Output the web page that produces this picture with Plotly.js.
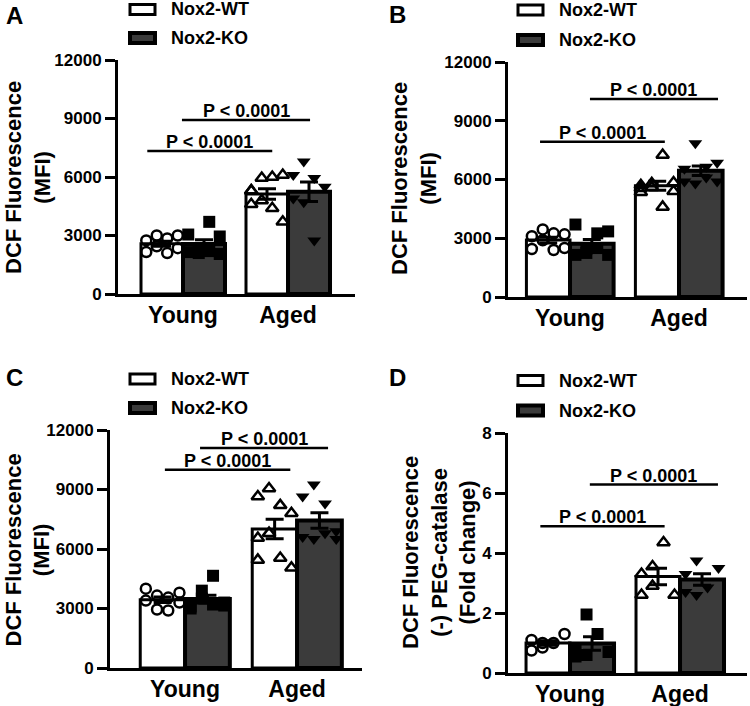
<!DOCTYPE html>
<html><head><meta charset="utf-8">
<script src="https://cdn.plot.ly/plotly-3.0.1.min.js"></script>
<style>html,body{margin:0;padding:0;background:#fff}#chart{width:750px;height:706px}</style>
</head><body><div id="chart"></div>
<script>
// ---------- DATA ----------
const groups = ['Young', 'Aged'];
const seriesNames = ['Nox2-WT', 'Nox2-KO'];
const panelLetters = ['A', 'B', 'C', 'D'];
const pLabel = 'P < 0.0001';

const A_wt_young = [2750, 3000, 2850, 3000, 2150, 2450, 2100, 2350];
const A_ko_young = [3050, 2350, 3700, 2950, 2150, 2100, 2200, 2050];
const A_wt_aged  = [5300, 5950, 6000, 6100, 5300, 4800, 4400, 3700, 4600];
const A_ko_aged  = [6100, 6800, 5950, 5500, 4900, 4700, 2750];

const B_wt_young = [3100, 3450, 3250, 3200, 2450, 2900, 2400, 2500];
const B_ko_young = [3700, 2450, 3250, 3350, 2150, 2250, 2500, 2150];
const B_wt_aged  = [5550, 5800, 7250, 5850, 5350, 5600, 4600, 5400, 5700];
const B_ko_aged  = [6550, 7850, 6650, 6850, 5900, 5800, 6100, 5900];

const C_wt_young = [4000, 3650, 3550, 3800, 3400, 2950, 2900, 3300];
const C_ko_young = [3100, 3900, 4650, 3300, 3000, 3500, 3200, 3150];
const C_wt_aged  = [8650, 9050, 8200, 7800, 6550, 6800, 5550, 5050, 5450];
const C_ko_aged  = [8650, 9250, 8300, 6900, 6600, 6500, 6800, 6500];

const D_wt_young = [1.1, 1.0, 1.0, 1.3, 0.75, 0.85];
const D_ko_young = [0.55, 1.95, 1.3, 0.7, 0.8, 0.6];
const D_wt_aged  = [2.6, 3.55, 4.35, 2.6, 3.3, 2.9];
const D_ko_aged  = [3.3, 3.75, 2.85, 3.5, 2.7, 2.6];

const yTicksMFI = [0, 3000, 6000, 9000, 12000];
const yTicksFold = [0, 2, 4, 6, 8];
const yTitleMFI = 'DCF Fluorescence<br>(MFI)';
const yTitleFold = 'DCF Fluorescence<br>(-) PEG-catalase<br>(Fold change)';

// significance bars: [x0, x1, y] in data units (lower, upper)
const sigA = [[-0.34, 0.85, 7330], [-0.01, 1.21, 8920]];
const sigB = [[-0.275, 0.87, 7930], [0.183, 1.358, 10110]];
const sigC = [[-0.18, 0.94, 10000], [0.134, 1.277, 11090]];
const sigD = [[-0.27, 0.86, 4.89], [0.18, 1.345, 6.28]];

// ---------- LAYOUT CONFIG ----------
const W = 750, H = 706;
const FONT = 'Liberation Sans, Arial, sans-serif';
const KO_FILL = '#3b3b3b';
const px = v => v / W, py = v => 1 - v / H;

const panels = [
  {data:[A_wt_young, A_ko_young, A_wt_aged, A_ko_aged], sig:sigA, ticks:yTicksMFI, ytitle:yTitleMFI,
   xpx:[118,355], ypx:[294,60], xr:[-0.619,1.638], titlePos:[27.5,177.5],
   letter:[4,16], legX:130, legY:[9.5,38]},
  {data:[B_wt_young, B_ko_young, B_wt_aged, B_ko_aged], sig:sigB, ticks:yTicksMFI, ytitle:yTitleMFI,
   xpx:[508,747], ypx:[297,62], xr:[-0.569,1.624], titlePos:[414,179],
   letter:[387,15], legX:518, legY:[10,40]},
  {data:[C_wt_young, C_ko_young, C_wt_aged, C_ko_aged], sig:sigC, ticks:yTicksMFI, ytitle:yTitleMFI,
   xpx:[110,362], ypx:[668,430], xr:[-0.67,1.58], titlePos:[27.5,550],
   letter:[4,377], legX:130, legY:[379,408]},
  {data:[D_wt_young, D_ko_young, D_wt_aged, D_ko_aged], sig:sigD, ticks:yTicksFold, ytitle:yTitleFold,
   xpx:[508,747], ypx:[673,433], xr:[-0.564,1.609], titlePos:[439,553],
   letter:[387,377], legX:518, legY:[380.5,410.5]}
];

function mean(a){ return a.reduce((s,v)=>s+v,0)/a.length; }
function sem(a){ const m=mean(a); const v=a.reduce((s,x)=>s+(x-m)*(x-m),0)/(a.length-1); return Math.sqrt(v/a.length); }
function jitter(i){ return ((i % 4) - 1.5) * 0.1; }

const traces = [];
const layout = {
  width: W, height: H, margin:{l:0,r:0,t:0,b:0},
  paper_bgcolor:'#fff', plot_bgcolor:'rgba(0,0,0,0)', showlegend:false,
  font:{family:FONT, color:'#000'}, shapes:[], annotations:[]
};

const symbols = ['circle-open', 'square', 'triangle-up-open', 'triangle-down'];
const sizes = [10, 12, 11, 12];

panels.forEach((p, k) => {
  const sfx = k === 0 ? '' : String(k + 1);
  const xa = 'x' + sfx, ya = 'y' + sfx;
  const [wtY, koY, wtA, koA] = p.data;
  const wtMeans = [mean(wtY), mean(wtA)], koMeans = [mean(koY), mean(koA)];
  const wtSem = [sem(wtY), sem(wtA)], koSem = [sem(koY), sem(koA)];

  traces.push({type:'bar', x:[0,1], y:wtMeans, offset:-0.4, width:0.4, xaxis:xa, yaxis:ya,
    name:seriesNames[0], marker:{color:'#ffffff', line:{color:'#000', width:3}}, hoverinfo:'skip'});
  traces.push({type:'bar', x:[0,1], y:koMeans, offset:0, width:0.4, xaxis:xa, yaxis:ya,
    name:seriesNames[1], marker:{color:KO_FILL, line:{color:'#000', width:4}}, hoverinfo:'skip'});

  const sets = [[wtY, 0, -0.2], [koY, 0, 0.2], [wtA, 1, -0.2], [koA, 1, 0.2]];
  sets.forEach((s, j) => {
    const [vals, g, off] = s;
    const open = symbols[j].indexOf('open') >= 0;
    traces.push({type:'scatter', mode:'markers', xaxis:xa, yaxis:ya, cliponaxis:false,
      x: vals.map((v,i)=> g + off + jitter(i)), y: vals,
      marker:{symbol:symbols[j], size:sizes[j], color:'#000',
        line:{color:'#000', width: open ? 2.5 : 0}}, hoverinfo:'skip'});
  });

  traces.push({type:'scatter', mode:'markers', xaxis:xa, yaxis:ya, cliponaxis:false,
    x:[-0.2, 0.2, 0.8, 1.2], y:[wtMeans[0], koMeans[0], wtMeans[1], koMeans[1]],
    marker:{size:1, color:'rgba(0,0,0,0)'},
    error_y:{type:'data', array:[wtSem[0], koSem[0], wtSem[1], koSem[1]], color:'#000', thickness:3, width:9},
    hoverinfo:'skip'});

  layout['xaxis' + sfx] = {
    domain:[px(p.xpx[0]), px(p.xpx[1])], range:p.xr, anchor:ya,
    tickvals:[0,1], ticktext:groups, ticks:'', showline:true, linewidth:3, linecolor:'#000',
    showgrid:false, zeroline:false, ticklabelstandoff:-2,
    tickfont:{family:FONT, size:23, weight:'bold', color:'#000'}, fixedrange:true
  };
  layout['yaxis' + sfx] = {
    domain:[py(p.ypx[0]), py(p.ypx[1])], range:[0, p.ticks[p.ticks.length-1]], anchor:xa,
    tickvals:p.ticks, ticktext:p.ticks.map(String), ticks:'outside', ticklen:10, tickwidth:3, tickcolor:'#000',
    showline:true, linewidth:3, linecolor:'#000', showgrid:false, zeroline:false,
    tickfont:{family:FONT, size:17, weight:'bold', color:'#000'},
    fixedrange:true
  };

  // y-axis title
  layout.annotations.push({xref:'paper', yref:'paper', x:px(p.titlePos[0]), y:py(p.titlePos[1]),
    xanchor:'center', yanchor:'middle', textangle:-90, text:p.ytitle, showarrow:false,
    font:{family:FONT, size:22, weight:'bold', color:'#000'}});

  p.sig.forEach(s => {
    layout.shapes.push({type:'line', xref:xa, yref:ya, x0:s[0], x1:s[1], y0:s[2], y1:s[2],
      line:{color:'#000', width:2.5}});
    layout.annotations.push({xref:xa, yref:ya, x:(s[0]+s[1])/2, y:s[2], yanchor:'bottom', yshift:-3,
      text:pLabel, showarrow:false, font:{family:FONT, size:18, weight:'bold', color:'#000'}});
  });

  // panel letter
  layout.annotations.push({xref:'paper', yref:'paper', x:px(p.letter[0]), y:py(p.letter[1]),
    xanchor:'left', yanchor:'middle', text:panelLetters[k], showarrow:false,
    font:{family:FONT, size:24, weight:'bold', color:'#000'}});

  // legend
  const fills = ['#ffffff', KO_FILL], lw = [3, 4];
  p.legY.forEach((cy, j) => {
    layout.shapes.push({type:'rect', xref:'paper', yref:'paper',
      x0:px(p.legX), x1:px(p.legX + 25), y0:py(cy + 5), y1:py(cy - 5),
      fillcolor:fills[j], line:{color:'#000', width:lw[j]}});
    layout.annotations.push({xref:'paper', yref:'paper', x:px(p.legX + 39), y:py(cy),
      xanchor:'left', yanchor:'middle', text:seriesNames[j], showarrow:false,
      font:{family:FONT, size:18, weight:'bold', color:'#000'}});
  });
});

Plotly.newPlot('chart', traces, layout, {staticPlot:true, displayModeBar:false});
</script>
</body></html>
